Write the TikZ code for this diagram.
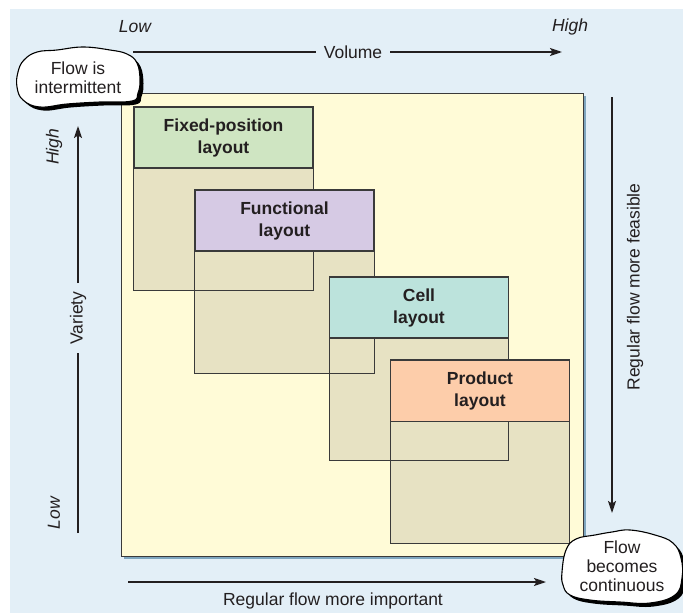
\documentclass[tikz,border=0pt]{standalone}
\usepackage{fontspec}
\setmainfont{Liberation Sans}
\usetikzlibrary{arrows.meta}
\definecolor{bgblue}{HTML}{E3EFF7}
\definecolor{sqyellow}{HTML}{FFFBD7}
\definecolor{sqshadow}{HTML}{7FA6BF}
\definecolor{tan}{HTML}{E7E2C3}
\definecolor{hgreen}{HTML}{CFE5C2}
\definecolor{hpurple}{HTML}{D6CAE4}
\definecolor{hteal}{HTML}{BCE3DC}
\definecolor{hpeach}{HTML}{FDCDAA}
\definecolor{ink}{HTML}{231F20}
\definecolor{edge}{HTML}{3A3A3A}
\begin{document}
\begin{tikzpicture}[x=1pt,y=-1pt,
  lbl/.style={font=\fontsize{17.5}{22}\selectfont, text=ink, inner sep=0pt},
  axislbl/.style={font=\fontsize{17.5}{22}\selectfont, text=ink, inner sep=8pt},
  itlbl/.style={font=\fontsize{17.5}{22}\selectfont\itshape, text=ink, inner sep=0pt},
  cloudtext/.style={font=\fontsize{17.5}{19}\selectfont, text=ink, align=center, inner sep=0pt},
  body/.style={fill=tan, minimum width=179pt, minimum height=183pt, inner sep=0pt},
  hdr/.style={draw=edge, line width=1.1pt, minimum width=179pt, minimum height=61pt, inner sep=0pt,
     font=\fontsize{17.5}{22}\selectfont\bfseries, text=ink, align=center},
  axis/.style={draw=ink, line width=1.6pt},
  tip/.style={-{Stealth[length=12pt,width=8pt,inset=2.5pt]}}
]
\useasboundingbox (0,0) rectangle (683,613);
\fill[bgblue] (10,9) rectangle (683,613);

% square with shadow
\fill[sqshadow] (124,96) rectangle (586,559);
\filldraw[fill=sqyellow, draw=edge, line width=1pt] (121,93) rectangle (583,556);

% box bodies
\node[body] (fixb) at (223.5,198.5) {};
\node[body] (funb) at (284.5,281.5) {};
\node[body] (celb) at (419,368.5) {};
\node[body] (prob) at (480,451.5) {};
\foreach \b in {fixb,funb,celb,prob}
  \draw[edge, line width=1.1pt] (\b.south west) rectangle (\b.north east);

% headers
\node[hdr, fill=hgreen]  (fixh) at (223.5,137.5) {Fixed-position\\layout};
\node[hdr, fill=hpurple] (funh) at (284.5,220.5) {Functional\\layout};
\node[hdr, fill=hteal]   (celh) at (419,307.5) {Cell\\layout};
\node[hdr, fill=hpeach]  (proh) at (480,391) {Product\\layout};

% top axis
\node[itlbl] (vlow) at (135,27) {Low};
\node[itlbl] (vhigh) at (570,27) {High};
\coordinate (v1) at (133,52);
\coordinate (v2) at (562,52);
\node[axislbl] (vol) at (353,52) {Volume};
\draw[axis] (v1) -- (vol.west);
\draw[axis, tip] (vol.east) -- (v2);

% left axis
\node[itlbl, rotate=90] (lhigh) at (54,147) {High};
\node[itlbl, rotate=90] (llow) at (54,513) {Low};
\coordinate (l1) at (78,533);
\coordinate (l2) at (78,126);
\node[axislbl, rotate=90] (var) at (78,318) {Variety};
\draw[axis] (l1) -- (var.west);
\draw[axis, tip] (var.east) -- (l2);

% right axis
\coordinate (r1) at (612,97);
\coordinate (r2) at (612,513);
\draw[axis, tip] (r1) -- (r2);
\node[lbl, rotate=90] (feas) at (635,287) {Regular flow more feasible};

% bottom axis
\coordinate (b1) at (128,582);
\coordinate (b2) at (546,582);
\draw[axis, tip] (b1) -- (b2);
\node[lbl] (imp) at (333,601) {Regular flow more important};

% clouds
\def\cloudA{(18,72) (24,60) (37,52) (57,50) (83,47) (110,50) (127,54) (137,63) (140,80) (138,93) (132,101) (100,102) (67,104) (40,107) (23,100) (17,87)}
\def\cloudB{(562,572) (566,550) (576,539) (595,535) (612,532) (630,530) (655,535) (673,543) (681,558) (682,578) (675,595) (650,603) (620,602) (590,600) (570,595) (563,585)}
\fill[black, shift={(3.5,3.5)}] plot[smooth cycle, tension=0.7] coordinates {\cloudA};
\filldraw[fill=white, draw=black, line width=1.1pt] plot[smooth cycle, tension=0.7] coordinates {\cloudA};
\fill[black, shift={(3.5,3.5)}] plot[smooth cycle, tension=0.7] coordinates {\cloudB};
\filldraw[fill=white, draw=black, line width=1.1pt] plot[smooth cycle, tension=0.7] coordinates {\cloudB};
\node[cloudtext] (c1) at (78,78) {Flow is\\intermittent};
\node[cloudtext] (c2) at (622,566) {Flow\\becomes\\continuous};
\end{tikzpicture}
\end{document}
